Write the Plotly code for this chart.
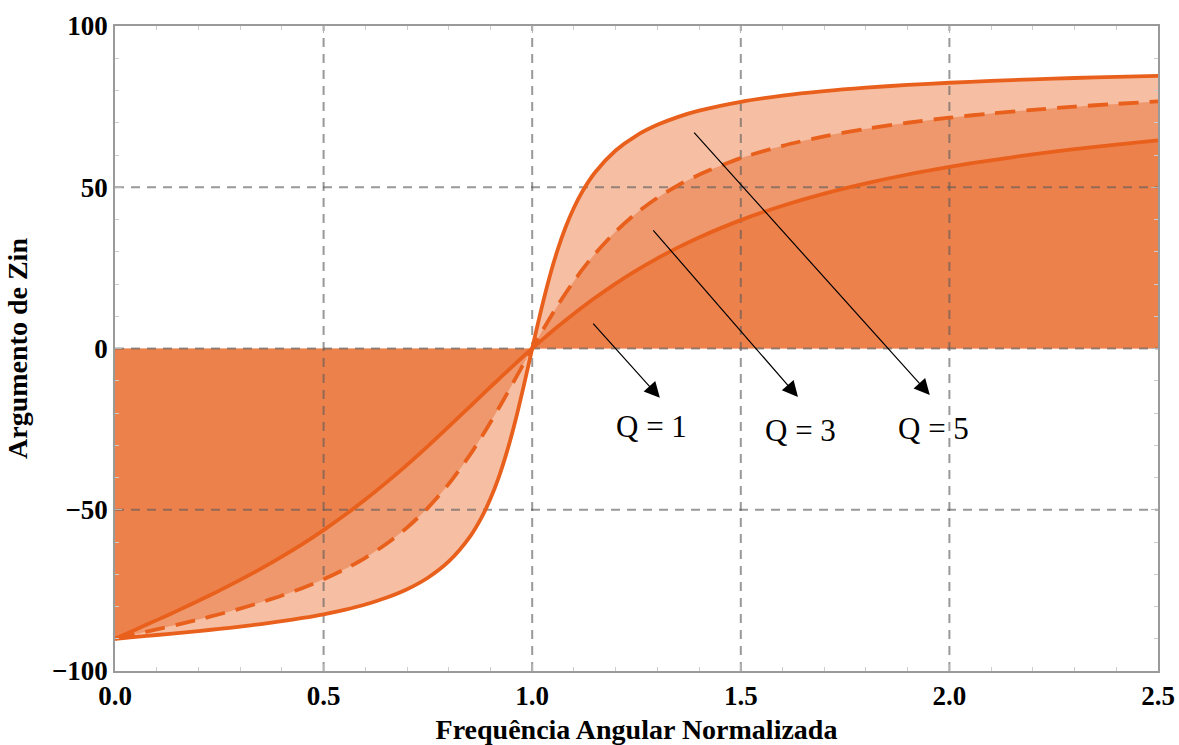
import plotly.graph_objects as go

# Normalized angular frequency
freq = [0.0, 0.02, 0.05, 0.1, 0.15, 0.2, 0.25, 0.3, 0.35, 0.4, 0.45, 0.5, 0.55, 0.6, 0.65,
        0.7, 0.75, 0.8, 0.85, 0.88, 0.9, 0.92, 0.94, 0.96, 0.98, 1.0, 1.02, 1.04, 1.06, 1.08,
        1.1, 1.12, 1.15, 1.2, 1.25, 1.3, 1.35, 1.4, 1.5, 1.6, 1.7, 1.8, 1.9, 2.0, 2.1, 2.2,
        2.3, 2.4, 2.5]

# Phase of Zin (degrees)
phase_q1 = [-90.0, -88.85, -87.13, -84.23, -81.28, -78.23, -75.07, -71.75, -68.25, -64.54,
            -60.57, -56.31, -51.73, -46.85, -41.60, -36.08, -30.26, -24.23, -18.08, -14.38,
            -11.92, -9.48, -7.06, -4.67, -2.31, 0.0, 2.27, 4.49, 6.65, 8.76, 10.81, 12.79,
            15.66, 20.14, 24.23, 27.96, 31.35, 34.44, 39.81, 44.27, 48.03, 51.21, 53.95,
            56.31, 58.37, 60.19, 61.80, 63.24, 64.54]
phase_q3 = [-90.0, -89.43, -88.56, -87.11, -85.61, -84.05, -82.41, -80.64, -78.72, -76.61,
            -74.24, -71.57, -68.48, -64.89, -60.62, -55.53, -49.40, -41.99, -33.14, -27.15,
            -22.89, -18.47, -13.91, -9.28, -4.62, 0.0, 4.53, 8.92, 13.13, 17.13, 20.89, 24.43,
            29.28, 36.25, 41.99, 46.71, 50.62, 53.90, 59.04, 62.85, 65.79, 68.11, 70.00,
            71.57, 72.89, 74.01, 74.99, 75.85, 76.61]
phase_q5 = [-90.0, -89.77, -89.43, -88.84, -88.24, -87.61, -86.95, -86.23, -85.44, -84.56,
            -83.56, -82.41, -81.04, -79.38, -77.31, -74.65, -71.08, -66.04, -58.50, -52.05,
            -46.54, -39.86, -31.75, -22.22, -11.42, 0.0, 11.20, 21.43, 30.24, 37.61, 43.66,
            48.63, 54.50, 61.38, 66.04, 69.35, 71.83, 73.74, 76.50, 78.41, 79.80, 80.87, 81.72,
            82.41, 82.98, 83.46, 83.88, 84.24, 84.56]

x_ticks = [0.0, 0.5, 1.0, 1.5, 2.0, 2.5]
y_ticks = [-100, -50, 0, 50, 100]

labels = ["Q = 1", "Q = 3", "Q = 5"]
label_pos = [(1.287, -24.3), (1.642, -25.3), (1.961, -24.7)]
arrow_tail = [(1.143, 8.2), (1.287, 37.1), (1.385, 67.4)]
arrow_head = [(1.306, -15.3), (1.637, -15.0), (1.953, -14.4)]

LINE = "rgb(232,96,28)"
FILL = "rgba(232,96,28,0.40)"
GRID = "rgba(90,90,90,0.62)"
SERIF = "Liberation Serif"

fig = go.Figure()

# semi-transparent fills to the axis (overlaps darken)
for ys in (phase_q5, phase_q3, phase_q1):
    fig.add_trace(go.Scatter(x=freq, y=ys, mode="none", fill="tozeroy",
                             line=dict(shape="spline", smoothing=0.8),
                             fillcolor=FILL, showlegend=False, hoverinfo="skip"))

# dashed grid drawn over the fills
for xv in x_ticks[1:-1]:
    fig.add_trace(go.Scatter(x=[xv, xv], y=[y_ticks[0], y_ticks[-1]], mode="lines",
                             line=dict(color=GRID, width=2, dash="9px,7px"),
                             showlegend=False, hoverinfo="skip"))
for yv in y_ticks[1:-1]:
    fig.add_trace(go.Scatter(x=[x_ticks[0], x_ticks[-1]], y=[yv, yv], mode="lines",
                             line=dict(color=GRID, width=2, dash="9px,7px"),
                             showlegend=False, hoverinfo="skip"))

# curves
fig.add_trace(go.Scatter(x=freq, y=phase_q5, mode="lines",
                         line=dict(color=LINE, width=3.8, shape="spline", smoothing=0.8),
                         showlegend=False))
fig.add_trace(go.Scatter(x=freq, y=phase_q3, mode="lines",
                         line=dict(color=LINE, width=3.8, dash="20px,11px", shape="spline",
                                   smoothing=0.8),
                         showlegend=False))
fig.add_trace(go.Scatter(x=freq, y=phase_q1, mode="lines",
                         line=dict(color=LINE, width=3.8, shape="spline", smoothing=0.8),
                         showlegend=False))

for (tx, ty), (hx, hy) in zip(arrow_tail, arrow_head):
    fig.add_annotation(x=hx, y=hy, ax=tx, ay=ty, xref="x", yref="y", axref="x", ayref="y",
                       text="", showarrow=True, arrowhead=2, arrowsize=2.6, arrowwidth=1.2,
                       arrowcolor="black")
for lab, (lx, ly) in zip(labels, label_pos):
    fig.add_annotation(x=lx, y=ly, xref="x", yref="y", text=lab, showarrow=False,
                       font=dict(family=SERIF, size=31, color="black"))

tickfont = dict(family=SERIF, size=27, color="black")
fig.update_layout(
    width=1179, height=745,
    margin=dict(l=115, r=21, t=26, b=74),
    plot_bgcolor="white", paper_bgcolor="white",
    font=dict(family=SERIF),
    xaxis=dict(range=[x_ticks[0], x_ticks[-1]], tickvals=x_ticks,
               ticktext=[f"<b>{v:.1f}</b>" for v in x_ticks], automargin=False,
               showgrid=False, zeroline=False, showline=True, mirror="ticks",
               linecolor="#9a9a9a", linewidth=1.5,
               ticks="inside", ticklen=7, tickcolor="#b5b5b5", tickwidth=1,
               minor=dict(dtick=0.1, ticks="inside", ticklen=4, tickcolor="#cccccc"),
               tickfont=tickfont,
               title=dict(text="<b>Frequência Angular Normalizada</b>", standoff=15,
                          font=dict(family=SERIF, size=28, color="black"))),
    yaxis=dict(range=[y_ticks[0], y_ticks[-1]], tickvals=y_ticks, automargin=False,
               ticktext=[f"<b>{v}</b>".replace("-", "\u2212") for v in y_ticks],
               showgrid=False, zeroline=False, showline=True, mirror="ticks",
               linecolor="#9a9a9a", linewidth=1.5,
               ticks="inside", ticklen=7, tickcolor="#b5b5b5", tickwidth=1,
               minor=dict(dtick=10, ticks="inside", ticklen=4, tickcolor="#cccccc"),
               tickfont=tickfont,
               title=dict(text="<b>Argumento de Zin</b>", standoff=16,
                          font=dict(family=SERIF, size=28, color="black"))),
)

fig.write_html("out.html")
